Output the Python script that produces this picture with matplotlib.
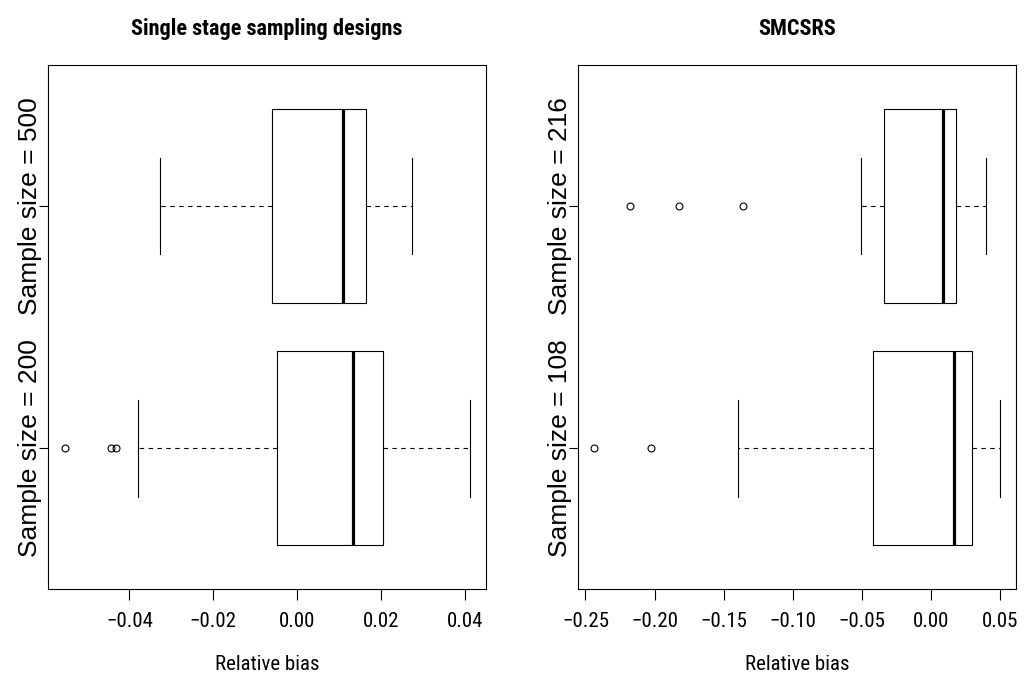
import numpy as np
import matplotlib
matplotlib.use("Agg")
import matplotlib.pyplot as plt
from matplotlib import font_manager

# Single stage sampling designs
left_title = "Single stage sampling designs"
left_labels = ["Sample size = 200", "Sample size = 500"]
left_whislo = [-0.0379, -0.0328]
left_q1 = [-0.0048, -0.0059]
left_med = [0.0133, 0.0109]
left_q3 = [0.0204, 0.0165]
left_whishi = [0.0412, 0.0274]
left_fliers = [[-0.0555, -0.0444, -0.0432], []]
left_ticks = [-0.04, -0.02, 0.00, 0.02, 0.04]

# SMCSRS
right_title = "SMCSRS"
right_labels = ["Sample size = 108", "Sample size = 216"]
right_whislo = [-0.1399, -0.0502]
right_q1 = [-0.0418, -0.0338]
right_med = [0.0167, 0.0087]
right_q3 = [0.0297, 0.0184]
right_whishi = [0.0500, 0.0401]
right_fliers = [[-0.2435, -0.2024], [-0.2174, -0.1826, -0.1357]]
right_ticks = [-0.25, -0.20, -0.15, -0.10, -0.05, 0.00, 0.05]

installed = {f.name for f in font_manager.fontManager.ttflist}
narrow = [f for f in ["Liberation Sans Narrow", "DejaVu Sans Condensed", "Roboto Condensed",
                      "Open Sans Condensed", "Liberation Sans"] if f in installed]
condensed = narrow[0] != "Liberation Sans"
normal = ["Liberation Sans", "DejaVu Sans"]
tick_fs = 15 if condensed else 14
title_fs = 16 if condensed else 14


def rbox(ax, title, labels, whislo, q1, med, q3, whishi, fliers, ticks):
    stats = []
    for i in range(len(labels)):
        stats.append(dict(whislo=whislo[i], q1=q1[i], med=med[i], q3=q3[i],
                          whishi=whishi[i], fliers=fliers[i]))
    ax.bxp(stats, positions=[1, 2], widths=0.8, capwidths=0.4,
           orientation="horizontal", showfliers=True,
           boxprops=dict(color="black", lw=0.8),
           medianprops=dict(color="black", lw=2.3, solid_capstyle="butt"),
           whiskerprops=dict(color="black", lw=0.8, linestyle=(0, (4, 4))),
           capprops=dict(color="black", lw=0.8),
           flierprops=dict(marker="o", mfc="none", mec="black", ms=5, mew=0.8))

    # R style 4% range extension
    allv = whislo + whishi + [v for f in fliers for v in f]
    lo, hi = min(allv), max(allv)
    pad = 0.04 * (hi - lo)
    ax.set_xlim(lo - pad, hi + pad)
    ax.set_ylim(0.42, 2.58)

    ax.set_xticks(ticks)
    ax.set_xticklabels([f"{t:.2f}".replace("-", "\u2212") for t in ticks],
                       family=narrow, fontsize=tick_fs)
    ax.set_yticks([1, 2])
    ax.set_yticklabels(labels, rotation=90, va="center", family=normal, fontsize=19)
    ax.tick_params(axis="x", length=7.7, width=0.8, pad=9)
    ax.tick_params(axis="y", length=6.5, width=0.8, pad=-2)
    for s in ax.spines.values():
        s.set_linewidth(0.8)
    ax.set_xlabel("Relative bias", family=narrow, fontsize=tick_fs, labelpad=17)
    ax.set_title(title, family=narrow, fontsize=title_fs, fontweight="bold", pad=22)


fig = plt.figure(figsize=(10.24, 6.78), dpi=100)
ax1 = fig.add_axes([0.0472, 0.1316, 0.4274, 0.7718])
ax2 = fig.add_axes([0.5647, 0.1316, 0.4274, 0.7718])

rbox(ax1, left_title, left_labels, left_whislo, left_q1, left_med, left_q3,
     left_whishi, left_fliers, left_ticks)
rbox(ax2, right_title, right_labels, right_whislo, right_q1, right_med, right_q3,
     right_whishi, right_fliers, right_ticks)

fig.savefig("out.png", dpi=100)
